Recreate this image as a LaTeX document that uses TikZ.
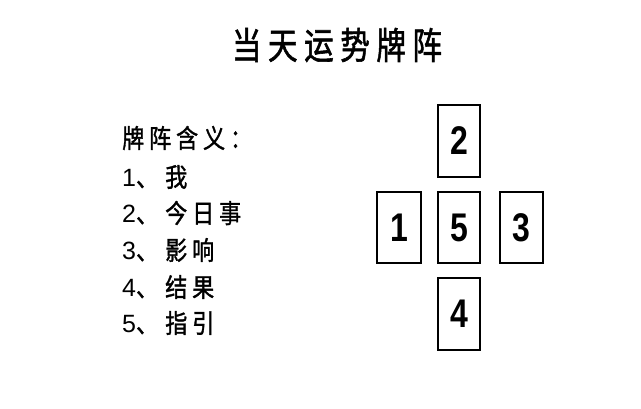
\documentclass[tikz,border=0pt]{standalone}
\usepackage{fontspec}
\newfontfamily\cjkt[LetterSpace=22,FakeBold=1.6]{Noto Sans CJK SC}
\newfontfamily\cjkl[LetterSpace=22,FakeBold=1.4]{Noto Sans CJK SC}
\newfontfamily\num{Liberation Sans}
\newcommand{\legline}[2]{{\num\fontsize{25}{25}\selectfont #1}\scalebox{0.85}[1]{\cjkl\fontsize{26}{26}\selectfont 、}\hspace{7pt}\scalebox{0.85}[1]{\cjkl\fontsize{26}{26}\selectfont #2}}
\tikzset{
  card/.style={draw, line width=2pt, minimum width=42pt, minimum height=71pt, inner sep=0pt,
    font=\num\bfseries\fontsize{40}{40}\selectfont},
  leg/.style={anchor=west, inner sep=0pt},
}
\begin{document}
\begin{tikzpicture}[x=1pt,y=-1pt]
\useasboundingbox[fill=white] (0,0) rectangle (641,409);
\node (title) at (337,45) {\scalebox{0.8}[1]{\cjkt\fontsize{37}{37}\selectfont 当天运势牌阵}};
\node[leg] (l0) at (122,138) {\scalebox{0.85}[1]{\cjkl\fontsize{26}{26}\selectfont 牌阵含义：}};
\node[leg] (l1) at (122,177) {\legline{1}{我}};
\node[leg] (l2) at (122,213) {\legline{2}{今日事}};
\node[leg] (l3) at (122,250) {\legline{3}{影响}};
\node[leg] (l4) at (122,287) {\legline{4}{结果}};
\node[leg] (l5) at (122,323) {\legline{5}{指引}};
\node[card, minimum height=72pt] (c2) at (459,141) {\scalebox{0.8}[1]{2}};
\node[card, minimum width=44pt] (c1) at (399,227.5) {\scalebox{0.8}[1]{1}};
\node[card] (c5) at (459,227.5) {\scalebox{0.8}[1]{5}};
\node[card, minimum width=43pt] (c3) at (521.5,227.5) {\scalebox{0.8}[1]{3}};
\node[card, minimum height=72pt] (c4) at (459,314) {\scalebox{0.8}[1]{4}};
\end{tikzpicture}
\end{document}
